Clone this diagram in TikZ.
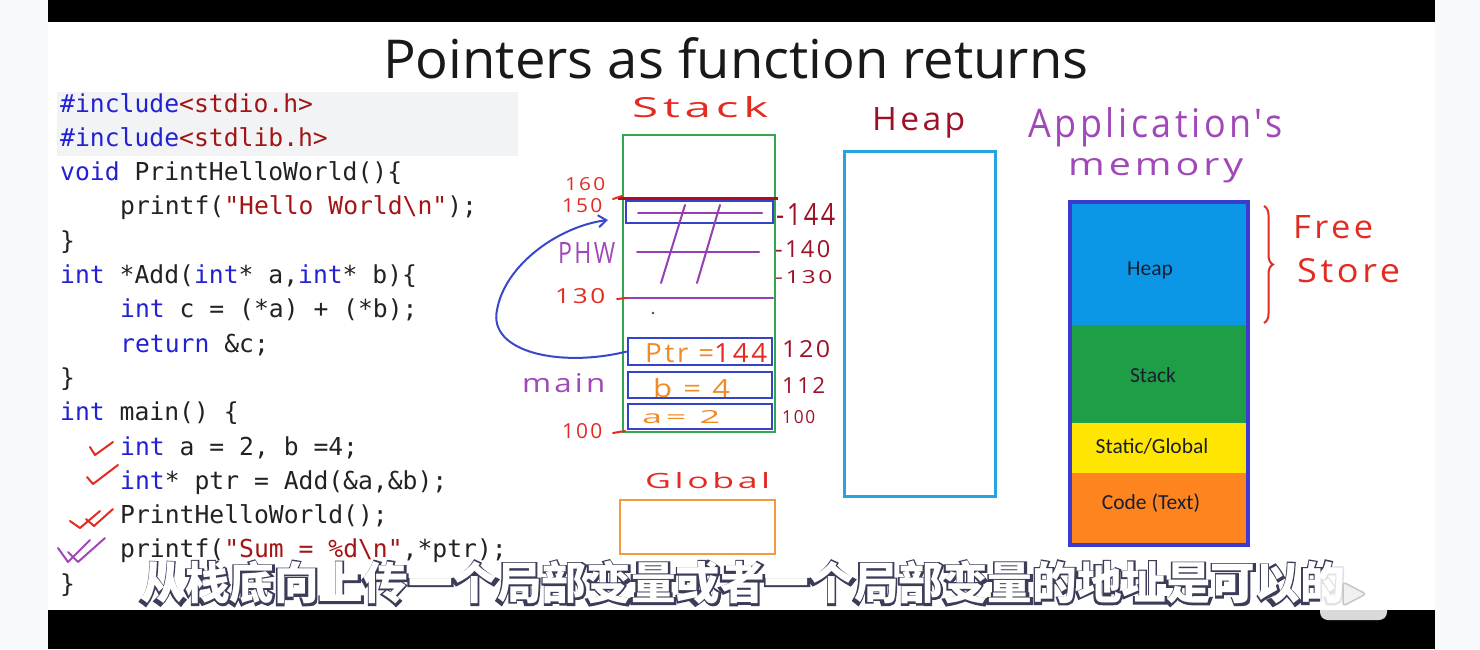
\documentclass[tikz,border=0pt]{standalone}
\usepackage{fontspec}
\usepackage{graphicx}
\usetikzlibrary{arrows.meta,decorations.pathreplacing,calc}
\setmonofont{DejaVu Sans Mono}
\newfontfamily\handfont{Open Sans}[LetterSpace=10]
\newfontfamily\titlefont{Open Sans}
\newfontfamily\calfont{Carlito}
\newfontfamily\cjkfont{Noto Sans CJK SC}
\newfontfamily\cjkoutfont{Noto Sans CJK SC}[FakeBold=12]
\definecolor{pagebg}{HTML}{F8F9FB}
\definecolor{codebg}{HTML}{F2F3F5}
\definecolor{codeblack}{HTML}{222222}
\definecolor{kwblue}{HTML}{2222D4}
\definecolor{strred}{HTML}{A31515}
\definecolor{hred}{HTML}{E32B22}
\definecolor{dred}{HTML}{9E1026}
\definecolor{hpurple}{HTML}{A048B8}
\definecolor{lpurple}{HTML}{9440B4}
\definecolor{horange}{HTML}{F08A22}
\definecolor{boxblue}{HTML}{3543C8}
\definecolor{stackgreen}{HTML}{33A64F}
\definecolor{heapblue}{HTML}{29A3E0}
\definecolor{globorange}{HTML}{F5993D}
\definecolor{arrowblue}{HTML}{3A48C8}
\definecolor{memheap}{HTML}{0B97E6}
\definecolor{memstack}{HTML}{1F9E48}
\definecolor{memstatic}{HTML}{FFE600}
\definecolor{memcode}{HTML}{FD841F}
\definecolor{memborder}{HTML}{3B3BCF}
\definecolor{memtext}{HTML}{1A1E30}
\definecolor{subline}{HTML}{3A3C58}
\newcommand\KW{\color{kwblue}}
\newcommand\STR{\color{strred}}
\newcommand\codefnt{\ttfamily\fontsize{24.7pt}{30pt}\selectfont}
\newcommand\hwfit[3]{\resizebox{#1}{#2}{\handfont #3}}
\newcommand\subtext{从栈底向上传一个局部变量或者一个局部变量的地址是可以的}
\tikzset{
  code/.style={anchor=base west, inner sep=0, font=\codefnt, text=codeblack},
  hw/.style={anchor=base west, inner sep=0},
  vbox/.style={draw=boxblue, line width=2.5pt, rectangle, inner sep=0},
  memlabel/.style={inner sep=0, font=\calfont\fontsize{21.5pt}{24pt}\selectfont, text=memtext},
  plin/.style={draw=lpurple, line width=2pt, line cap=round},
  chk/.style={line width=2pt, line cap=round, line join=round},
  subst/.style={inner sep=0, font=\cjkfont\bfseries\fontsize{44.6pt}{50pt}\selectfont},
  subout/.style={inner sep=0, font=\cjkoutfont\fontsize{44.6pt}{50pt}\selectfont}
}
\begin{document}
\begin{tikzpicture}[x=1pt,y=-1pt]
\useasboundingbox (0,0) rectangle (1480,649);
% frame
\fill[pagebg] (0,0) rectangle (1480,649);
\fill[black] (48,0) rectangle (1435,649);
\fill[white] (48,22) rectangle (1435,610);
% title
\node[anchor=base west, inner sep=0, text=black!90] (title) at (383,78)
  {\resizebox{705pt}{41pt}{\titlefont Pointers as function returns}};
% code
\fill[codebg] (57,92) rectangle (518,156);
\node[code] (c1) at (60,112) {{\KW\#include}{\STR<stdio.h>}};
\node[code] (c2) at (60,146.3) {{\KW\#include}{\STR<stdlib.h>}};
\node[code] (c3) at (60,180.6) {{\KW void} PrintHelloWorld()\{};
\node[code] (c4) at (120,214.9) {printf({\STR"Hello World\textbackslash n"});};
\node[code] (c5) at (60,249.2) {\}};
\node[code] (c6) at (60,283.5) {{\KW int} *Add({\KW int}* a,{\KW int}* b)\{};
\node[code] (c7) at (120,317.8) {{\KW int} c = (*a) + (*b);};
\node[code] (c8) at (120,352.1) {{\KW return} \&c;};
\node[code] (c9) at (60,386.4) {\}};
\node[code] (c10) at (60,420.7) {{\KW int} main() \{};
\node[code] (c11) at (120,455) {{\KW int} a = 2, b =4;};
\node[code] (c12) at (120,489.3) {{\KW int}* ptr = Add(\&a,\&b);};
\node[code] (c13) at (120,523.6) {PrintHelloWorld();};
\node[code] (c14) at (120,557.9) {printf({\STR"Sum = \%d\textbackslash n"},*ptr);};
\node[code] (c15) at (60,592.2) {\}};
% check marks
\draw[chk, hred] (90,447) -- (95,455) -- (113,442);
\draw[chk, hred] (87,477) -- (93,484) -- (118,465);
\draw[chk, hred] (70,521) -- (80,528) -- (100,511);
\draw[chk, hred] (86,519) -- (94,526) -- (113,509);
\draw[chk, hpurple] (58,548) -- (68,562) -- (90,540);
\draw[chk, hpurple] (68,552) -- (78,562) -- (105,538);
% stack
\node[hw, text=hred] (lstack) at (632,117) {\hwfit{136pt}{21pt}{Stack}};
\node[draw=stackgreen, line width=2.5pt, rectangle, inner sep=0, minimum width=152pt, minimum height=297pt] (stackbox) at (699,283.5) {};
\draw[plin] (623,298) -- (773,298);
\node[vbox, minimum width=147pt, minimum height=22pt] (box144) at (699.5,212) {};
\draw[draw=dred!80!red, line width=3pt] (618,198.5) -- (778,198.5);
\draw[plin] (638,213) -- (762,213);
\draw[plin] (637,252) -- (759,252);
\draw[plin] (685,205) -- (661,283);
\draw[plin] (720,205) -- (697,283);
\fill[lpurple!70!black] (653,313) circle (1.3pt);
\node[vbox, minimum width=144pt, minimum height=27pt] (ptrbox) at (700,351.5) {};
\node[vbox, minimum width=144pt, minimum height=26pt] (bbox) at (700,385) {};
\node[vbox, minimum width=144pt, minimum height=25pt] (abox) at (700,416.5) {};
\node[hw] (lptr) at (645,362) {\resizebox{122pt}{19pt}{\handfont{\color{horange}Ptr =}{\color{hred}144}}};
\node[hw, text=horange] (lb) at (653,397) {\hwfit{77pt}{19pt}{b = 4}};
\node[hw, text=horange] (la) at (642,423) {\hwfit{78pt}{13pt}{a= 2}};
% left labels
\node[hw, text=hred] (l160) at (565,190) {\hwfit{40pt}{13pt}{160}};
\node[hw, text=hred] (l150) at (562,212) {\hwfit{40pt}{14pt}{150}};
\node[hw, text=hred] (l130) at (555,303) {\hwfit{50pt}{15pt}{130}};
\node[hw, text=hred] (l100) at (562,438) {\hwfit{40pt}{15pt}{100}};
\draw[hred, line width=2pt, line cap=round] (613,199) -- (622,196);
\draw[hred, line width=2pt, line cap=round] (617,299) -- (626,298);
\draw[hred, line width=2pt, line cap=round] (613,433) -- (625,431);
\node[hw, text=hpurple] (lphw) at (558,263) {\hwfit{57pt}{21pt}{PHW}};
\node[hw, text=hpurple] (lmain) at (522,392) {\hwfit{83pt}{19pt}{main}};
% right labels
\node[hw, text=dred] (r144) at (776,225) {\hwfit{59pt}{22pt}{-144}};
\node[hw, text=dred] (r140) at (775,257) {\hwfit{55pt}{17pt}{-140}};
\node[hw, text=dred] (r130) at (775,283) {\hwfit{57pt}{13pt}{-130}};
\node[hw, text=dred] (r120) at (782,357) {\hwfit{48pt}{17pt}{120}};
\node[hw, text=dred] (r112) at (782,393) {\hwfit{43pt}{16pt}{112}};
\node[hw, text=dred] (r100) at (782,423) {\hwfit{33pt}{13pt}{100}};
% pointer arrow
\coordinate (arrtip) at (608,220);
\draw[arrowblue, line width=2pt, -{Straight Barb[length=8pt,width=12pt]}]
  (ptrbox.west) .. controls (560,368) and (488,352) .. (497,310)
  .. controls (505,264) and (560,226) .. (arrtip);
% global
\node[hw, text=hred] (lglobal) at (645,488) {\hwfit{125pt}{16pt}{Global}};
\node[draw=globorange, line width=2.5pt, rectangle, inner sep=0, minimum width=155pt, minimum height=54pt] (globbox) at (697.5,527) {};
% heap
\node[hw, text=dred] (lheap) at (872,130) {\hwfit{93pt}{23pt}{Heap}};
\node[draw=heapblue, line width=3pt, rectangle, inner sep=0, minimum width=151pt, minimum height=345pt] (heapbox) at (919.5,323.5) {};
% application memory
\node[hw, text=hpurple] (lapp) at (1028,137) {\hwfit{254pt}{30pt}{Application's}};
\node[hw, text=hpurple] (lmem) at (1068,175) {\hwfit{175pt}{17pt}{memory}};
\fill[memheap] (1070,202) rectangle (1248,325);
\fill[memstack] (1070,325) rectangle (1248,423);
\fill[memstatic] (1070,423) rectangle (1248,473);
\fill[memcode] (1070,473) rectangle (1248,545);
\draw[memborder, line width=4pt] (1070,202) rectangle (1248,545);
\node[memlabel] (mheap) at (1150,270) {Heap};
\node[memlabel] (mstack) at (1153,375) {Stack};
\node[memlabel] (mstatic) at (1152,446) {Static/Global};
\node[memlabel] (mcode) at (1151,503) {Code (Text)};
\draw[hred, line width=2pt, decorate, decoration={brace, amplitude=9pt}] (1264,206) -- (1264,323);
\node[hw, text=hred] (lfree) at (1293,238) {\hwfit{80pt}{23pt}{Free}};
\node[hw, text=hred] (lstore) at (1297,282) {\hwfit{103pt}{24pt}{Store}};
% subtitle: dark emboldened copy under a white copy
\node[subout, text=subline] (subo) at (742.5,583) {\subtext};
\node[subst, text=white] (sub) at (742.5,583) {\subtext};
% logo
\fill[white, opacity=0.85, rounded corners=8pt] (1320,567) rectangle (1387,620);
\draw[white, opacity=0.85, line width=4pt, line cap=round] (1338,557) -- (1347,567);
\draw[white, opacity=0.85, line width=4pt, line cap=round] (1369,557) -- (1360,567);
\draw[gray!45, line width=1.5pt, fill=gray!12, rounded corners=3pt] (1343,582) -- (1343,606) -- (1366,594) -- cycle;
\end{tikzpicture}
\end{document}
